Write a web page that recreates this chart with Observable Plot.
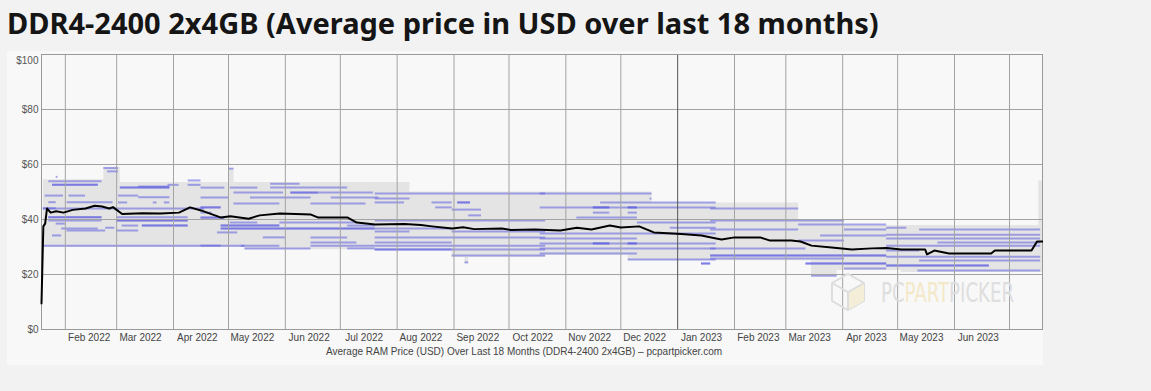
<!DOCTYPE html>
<html><head><meta charset="utf-8">
<script src="https://cdn.jsdelivr.net/npm/d3@7"></script>
<script src="https://cdn.jsdelivr.net/npm/@observablehq/plot@0.6"></script>
<style>
html,body{margin:0;padding:0;background:#f2f2f2;}
body{width:1151px;height:391px;overflow:hidden;position:relative;}
h1{position:absolute;left:7px;top:4px;margin:0;font:700 29px "Noto Sans",sans-serif;color:#151515;white-space:nowrap;line-height:38px;}
#card{position:absolute;left:7px;top:51px;width:1036px;height:314px;background:#f8f8f8;}
</style></head><body>
<h1>DDR4-2400 2x4GB (Average price in USD over last 18 months)</h1>
<div id="card"></div>
<script>
const title = "DDR4-2400 2x4GB (Average price in USD over last 18 months)";
const caption = "Average RAM Price (USD) Over Last 18 Months (DDR4-2400 2x4GB) \u2013 pcpartpicker.com";
const xDomain = ["2022-01-19", "2023-07-19"];
const yTicks = [0, 20, 40, 60, 80];
const yTopTick = [100];
const monthStarts = ["2022-02-01","2022-03-01","2022-04-01","2022-05-01","2022-06-01","2022-07-01","2022-08-01","2022-09-01","2022-10-01","2022-11-01","2022-12-01","2023-01-01","2023-02-01","2023-03-01","2023-04-01","2023-05-01","2023-06-01","2023-07-01"];
const monthLabels = ["2022-02-14","2022-03-14","2022-04-14","2022-05-14","2022-06-14","2022-07-14","2022-08-14","2022-09-14","2022-10-14","2022-11-14","2022-12-14","2023-01-14","2023-02-14","2023-03-14","2023-04-14","2023-05-14","2023-06-14"];

// average price (black line)
const avgDates = ["2022-01-19","2022-01-20","2022-01-21","2022-01-22","2022-01-24","2022-01-27","2022-01-31","2022-02-05","2022-02-12","2022-02-17","2022-02-21","2022-02-25","2022-02-27","2022-03-01","2022-03-04","2022-03-15","2022-03-25","2022-04-04","2022-04-10","2022-04-16","2022-04-27","2022-05-02","2022-05-12","2022-05-18","2022-05-29","2022-06-15","2022-06-19","2022-07-05","2022-07-10","2022-07-20","2022-08-05","2022-08-14","2022-08-20","2022-08-31","2022-09-06","2022-09-12","2022-09-27","2022-10-02","2022-10-15","2022-10-29","2022-11-07","2022-11-15","2022-11-25","2022-12-01","2022-12-11","2022-12-19","2023-01-03","2023-01-14","2023-01-22","2023-01-25","2023-02-01","2023-02-15","2023-02-20","2023-03-04","2023-03-09","2023-03-15","2023-03-26","2023-04-06","2023-04-17","2023-04-25","2023-05-03","2023-05-16","2023-05-17","2023-05-21","2023-05-29","2023-06-21","2023-06-23","2023-07-13","2023-07-16","2023-07-19"];
const avgPrices = [9.5,37.5,38.5,44,42.5,43,42.5,43.5,44,45,44.7,44,44.5,43.5,42,42.3,42.2,42.5,44.4,43.3,40.7,41.2,40.3,41.5,42.2,41.8,40.7,40.7,38.9,38.2,38.4,38,37.5,36.7,37.2,36.5,36.7,36.2,36.4,36,37,36.4,37.8,37.1,37.5,35.3,34.7,34.2,33.1,32.7,33.5,33.5,32.4,32.4,32,30.5,29.8,29.1,29.5,29.6,29.1,29.1,27.3,28.7,27.6,27.6,28.7,28.7,32,32];

// min / max price envelope (gray band)
const bandDates = ["2022-01-20","2022-02-22","2022-03-03","2022-05-01","2022-05-04","2022-05-10","2022-08-08","2022-08-31","2022-09-07","2022-09-09","2022-10-21","2022-12-05","2022-12-18","2023-03-08","2023-03-15","2023-03-29","2023-04-02","2023-05-03","2023-07-17","2023-07-19"];
const bandLow  = [29.8,29.8,29.8,29.8,29.8,29,29,26.2,24,26.2,27,25,25,25,19,21.5,21.5,20.7,20.7,20.7];
const bandHigh = [54.5,59,53.5,58.5,53.5,53.5,50,50,50,50,50,50,46,39.6,39.6,39.6,37.8,37.8,54,54];

// individual retailer listings (blue segments): [from, to, price]
const listings = [
["2022-01-23","2022-02-21",53.9],["2022-01-25","2022-02-19",52.6],["2022-01-25","2022-02-19",52.6],["2022-01-27","2022-01-28",55.5],
["2022-01-21","2022-01-31",48.7],["2022-02-03","2022-02-12",48.7],["2022-01-23","2022-01-27",46.3],["2022-02-02","2022-02-27",46.3],
["2022-01-20","2022-01-27",44.1],["2022-01-23","2022-02-21",40.8],["2022-01-23","2022-02-21",40.8],["2022-01-23","2022-02-21",39.6],
["2022-01-27","2022-02-01",38.5],["2022-01-30","2022-02-19",36.7],["2022-01-25","2022-01-30",34.2],["2022-01-20","2022-05-10",30.5],
["2022-02-22","2022-03-02",58.7],["2022-02-24","2022-03-02",57.5],["2022-03-03","2022-03-30",51.6],["2022-03-03","2022-03-30",51.6],
["2022-03-13","2022-03-30",52],["2022-03-29","2022-04-04",52.6],["2022-04-09","2022-04-16",52.6],["2022-04-09","2022-04-16",54.2],
["2022-03-02","2022-03-13",48.7],["2022-03-13","2022-03-30",48.1],["2022-03-02","2022-03-07",46.2],["2022-03-21","2022-03-23",46.2],
["2022-03-27","2022-03-30",46.2],["2022-01-20","2022-04-18",44],["2022-03-01","2022-04-09",40.8],["2022-03-01","2022-04-09",39.6],
["2022-03-01","2022-04-09",39.6],["2022-03-15","2022-04-09",37.8],["2022-03-15","2022-04-09",37.8],["2022-03-04","2022-03-13",37.8],
["2022-02-02","2022-02-23",36],["2022-03-01","2022-03-13",36],["2022-02-23","2022-02-28",37],
["2022-05-01","2022-05-04",58.5],["2022-05-24","2022-06-09",53],["2022-04-16","2022-04-29",51.6],["2022-05-02","2022-05-17",51.6],
["2022-05-24","2022-06-15",51.6],["2022-06-15","2022-07-05",51.6],["2022-05-04","2022-05-31",49.8],["2022-06-04","2022-06-19",49.8],
["2022-06-04","2022-06-19",49.8],["2022-06-19","2022-07-19",49.8],["2022-04-16","2022-05-01",48],["2022-05-13","2022-06-15",48],
["2022-06-26","2022-07-22",48],["2022-05-04","2022-05-29",45.8],["2022-06-15","2022-07-15",45.8],["2022-04-16","2022-04-27",44.4],
["2022-04-16","2022-04-27",44.4],["2022-04-16","2022-04-22",42.5],["2022-04-16","2022-04-29",40.7],["2022-04-16","2022-04-29",40.7],
["2022-05-02","2022-05-17",38.9],["2022-05-29","2022-07-10",38.9],["2022-04-27","2022-05-29",37.8],["2022-04-27","2022-05-29",37.8],
["2022-07-05","2022-07-20",37.8],["2022-04-27","2022-07-20",36.7],["2022-04-27","2022-07-20",36.7],["2022-04-25","2022-05-06",35.3],
["2022-05-20","2022-06-01",33.5],["2022-06-15","2022-07-05",33.5],["2022-06-15","2022-07-10",31.6],["2022-04-16","2022-04-27",30.5],
["2022-05-08","2022-05-29",30.5],["2022-06-15","2022-07-20",30.5],["2022-05-10","2022-06-15",29.5],["2022-07-05","2022-07-20",29.5],
["2022-07-20","2022-10-21",49.5],["2022-07-20","2022-08-08",47.6],["2022-07-20","2022-08-05",46.2],["2022-08-20","2022-08-31",46.2],
["2022-09-03","2022-09-10",46.2],["2022-09-03","2022-09-10",46.2],["2022-08-22","2022-08-31",44.4],["2022-08-31","2022-09-16",43.6],
["2022-09-09","2022-09-16",41.5],["2022-07-20","2022-10-21",39.6],["2022-07-20","2022-08-31",36.7],["2022-07-20","2022-08-08",35.6],
["2022-08-31","2022-10-21",35.6],["2022-07-20","2022-10-21",33.5],["2022-07-20","2022-08-31",31.6],["2022-07-20","2022-10-21",30.5],
["2022-07-20","2022-08-31",29.1],["2022-07-20","2022-08-31",29.1],["2022-08-31","2022-10-21",29.1],["2022-08-31","2022-10-21",26.9],
["2022-09-07","2022-09-09",24.4],
["2022-10-18","2022-12-18",49.5],["2022-12-17","2022-12-18",47.6],["2022-11-20","2023-01-22",46.2],["2022-10-18","2023-01-22",44.4],
["2022-11-16","2022-11-25",44.4],["2022-11-16","2022-11-25",44.4],["2022-12-05","2022-12-10",44.4],["2022-12-05","2022-12-10",44.4],
["2022-11-16","2022-11-25",42.5],["2022-12-05","2022-12-10",42.5],["2022-11-07","2022-12-10",40.7],["2022-12-10","2023-01-22",38.9],
["2022-12-28","2023-01-22",37],["2022-10-18","2023-01-22",34.9],["2022-10-18","2022-12-10",33.1],["2022-10-18","2023-01-22",31.3],
["2022-11-16","2022-11-25",31.3],["2022-11-16","2022-11-25",31.3],["2022-12-05","2022-12-10",31.3],["2022-12-05","2022-12-10",31.3],
["2022-10-18","2023-01-22",29.5],["2022-10-18","2022-12-10",27.6],["2022-12-05","2023-01-22",25.5],["2023-01-14","2023-01-19",24],
["2023-01-14","2023-01-19",24],
["2023-01-19","2023-03-08",44],["2023-01-19","2023-04-02",39.6],["2023-03-08","2023-04-25",38.2],["2023-01-19","2023-03-08",36.4],
["2023-04-02","2023-04-25",36.4],["2023-03-20","2023-04-25",34.2],["2023-03-08","2023-04-02",32.4],["2023-01-19","2023-03-12",29.5],
["2023-01-19","2023-04-25",26.9],["2023-01-19","2023-04-25",26.9],["2023-01-19","2023-03-12",25.8],["2023-03-12","2023-04-02",25.8],
["2023-03-12","2023-04-25",24],["2023-03-12","2023-04-25",24],["2023-04-02","2023-04-25",22.2],["2023-03-15","2023-03-29",19.6],
["2023-04-25","2023-05-06",37],["2023-05-13","2023-07-18",36.4],["2023-04-25","2023-07-18",34.5],["2023-04-25","2023-07-18",33.1],
["2023-05-23","2023-07-18",31.6],["2023-04-25","2023-07-18",30.5],["2023-04-25","2023-05-13",28.7],["2023-04-25","2023-07-18",26.5],
["2023-05-13","2023-07-18",25.1],["2023-04-25","2023-06-20",23.3],["2023-04-25","2023-06-20",23.3],["2023-05-12","2023-07-18",21.5]
];

const parse = s => new Date(s + "T00:00:00Z");
const avg = avgDates.map((d, i) => ({date: parse(d), price: avgPrices[i]}));
const band = bandDates.map((d, i) => ({date: parse(d), lo: bandLow[i], hi: bandHigh[i]}));
const segs = listings.map(([a, b, p]) => ({from: parse(a), to: parse(b), price: p}));
const grid = monthStarts.map(parse);
const labels = monthLabels.map(parse);
const fmt = d3.utcFormat("%b %Y");

const chart = Plot.plot({
  width: 1036, height: 314,
  marginLeft: 34, marginRight: 1, marginTop: 3, marginBottom: 36,
  style: {background: "transparent", fontFamily: "'Liberation Sans', Arial, sans-serif", color: "#555"},
  x: {type: "utc", domain: xDomain.map(parse), axis: null},
  y: {domain: [0, 100], axis: null},
  marks: [
    Plot.areaY(band, {x: "date", y1: "lo", y2: "hi", curve: "step-after", fill: "#e4e4e4"}),
    Plot.ruleY(segs, {y: "price", x1: "from", x2: "to", stroke: "#5f5fe0", strokeOpacity: 0.55, strokeWidth: 2}),
    Plot.ruleY([20, 40, 60, 80], {stroke: "#a3a3a3", strokeWidth: 1}),
    Plot.ruleX(grid, {stroke: d => d.getUTCMonth() === 0 ? "#555" : "#a3a3a3", strokeWidth: 1}),
    Plot.frame({stroke: "#999"}),
    Plot.line(avg, {x: "date", y: "price", stroke: "#000", strokeWidth: 2}),
    Plot.axisY(yTicks, {tickSize: 0, tickPadding: 3, tickFormat: d => "$" + d, fontSize: 10, fill: "#555"}),
    Plot.axisY(yTopTick, {tickSize: 0, tickPadding: 3, tickFormat: d => "$" + d, fontSize: 10, fill: "#555", dy: 6}),
    Plot.axisX(labels, {tickSize: 0, tickPadding: 4, tickFormat: fmt, fontSize: 10, fill: "#444"}),
    Plot.text([caption], {frameAnchor: "bottom", dy: 25, dx: -18, fontSize: 10, fill: "#444"})
  ]
});

// faint PCPartPicker watermark
const svg = d3.select(chart);
const wm = svg.append("g").attr("text-anchor", "start");
wm.append("path").attr("d", "M825,232 L841,223 L857,232 L857,250 L841,259 L825,250 Z").attr("fill", "none").attr("stroke", "#dddddd").attr("stroke-width", 2);
wm.append("path").attr("d", "M841,241 L857,232 L857,250 L841,259 Z").attr("fill", "#f4eed9");
wm.append("path").attr("d", "M825,232 L841,241 L857,232 M841,241 L841,259").attr("fill", "none").attr("stroke", "#dddddd").attr("stroke-width", 2);
const t = wm.append("text").attr("x", 874).attr("y", 251).attr("text-anchor", "start")
  .attr("font-family", "'DejaVu Sans', sans-serif").attr("font-size", 26)
  .attr("textLength", 133).attr("lengthAdjust", "spacingAndGlyphs");
t.append("tspan").attr("fill", "#dedede").text("PC");
t.append("tspan").attr("fill", "#f3e9c9").text("PART");
t.append("tspan").attr("fill", "#dedede").text("PICKER");

document.getElementById("card").appendChild(chart);
</script></body></html>
